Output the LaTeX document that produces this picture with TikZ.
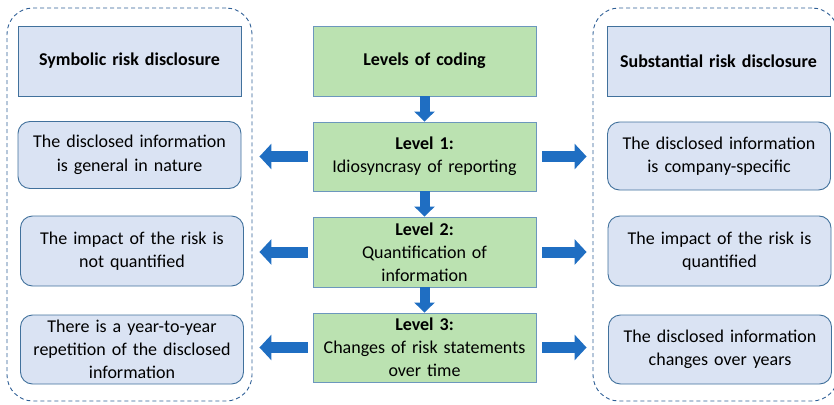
\documentclass[tikz,border=0pt]{standalone}
\usepackage{fontspec}
\setmainfont{Carlito}
\usetikzlibrary{arrows.meta,calc}

\definecolor{boxfill}{HTML}{DAE3F3}
\definecolor{boxline}{HTML}{41719C}
\definecolor{levelfill}{HTML}{BBE2B1}
\definecolor{levelline}{HTML}{6C97BD}
\definecolor{arrowblue}{HTML}{1F6EC2}
\definecolor{groupline}{HTML}{2F5F96}

\tikzset{
  basebox/.style={draw, line width=0.9pt, align=center, inner sep=2pt,
    font=\fontsize{18}{23.5}\selectfont, text width=219pt},
  headbox/.style={basebox, fill=boxfill, draw=boxline, minimum width=223pt,
    minimum height=70pt, font=\fontsize{18}{23.5}\selectfont\bfseries},
  infobox/.style={basebox, fill=boxfill, draw=boxline, rounded corners=12pt,
    minimum width=222pt, minimum height=68pt},
  levelbox/.style={basebox, fill=levelfill, draw=levelline, minimum width=223pt,
    minimum height=69pt, font=\fontsize{18}{23}\selectfont},
  groupbox/.style={draw=groupline, line width=0.9pt, dash pattern=on 4pt off 3pt,
    rounded corners=26pt, minimum width=245pt, minimum height=393pt},
  flowdown/.style={draw=arrowblue, line width=10pt,
    -{Triangle[width=20pt,length=10pt]}},
  flowside/.style={draw=arrowblue, line width=11pt,
    -{Triangle[width=25pt,length=12pt]}},
}

\begin{document}
\begin{tikzpicture}[x=1pt, y=-1pt]
\useasboundingbox (0,0) rectangle (834,404);

% dashed groups for the two kinds of disclosure
\node[groupbox] (symgroup) at (129.5,204.5) {};
\node[groupbox] (subgroup) at (715.5,204.5) {};

% headers
\node[headbox] (symhead) at (129.5,61) {Symbolic risk disclosure};
\node[headbox] (subhead) at (718.5,61) {Substantial risk disclosure};

% coding levels
\node[levelbox, minimum height=70pt, font=\fontsize{18}{23}\selectfont\bfseries]
  (levels) at (424.5,61) {Levels of coding};
\node[levelbox] (lvl1) at (424.5,156.5) {\textbf{Level 1:}\\Idiosyncrasy of reporting};
\node[levelbox, minimum height=70pt] (lvl2) at (424.5,252) {\textbf{Level 2:}\\Quantification of\\information};
\node[levelbox] (lvl3) at (424.5,347.5) {\textbf{Level 3:}\\Changes of risk statements\\over time};

% symbolic outcomes
\node[infobox, minimum height=67pt] (sym1) at (129.5,155) {The disclosed information\\is general in nature};
\node[infobox, minimum height=70pt] (sym2) at (132,251) {The impact of the risk is\\not quantified};
\node[infobox, minimum height=69pt, font=\fontsize{18}{23}\selectfont] (sym3) at (132,349.5) {There is a year-to-year\\repetition of the disclosed\\information};

% substantial outcomes
\node[infobox] (sub1) at (719,156) {The disclosed information\\is company-specific};
\node[infobox, minimum height=70pt] (sub2) at (719.5,251) {The impact of the risk is\\quantified};
\node[infobox, minimum height=69pt] (sub3) at (720,349.5) {The disclosed information\\changes over years};

% downward flow between levels
\draw[flowdown] (levels.south) -- (lvl1.north);
\draw[flowdown] (lvl1.south) -- (lvl2.north);
\draw[flowdown] (lvl2.south) -- (lvl3.north);

% sideways flow into each group
\foreach \lv in {lvl1,lvl2,lvl3}{
  \draw[flowside] ($(\lv.west)+(-5,0)$) -- ($(symgroup.east |- \lv.west)+(7,0)$);
  \draw[flowside] ($(\lv.east)+(6,0)$) -- ($(subgroup.west |- \lv.east)+(-6,0)$);
}
\end{tikzpicture}
\end{document}
